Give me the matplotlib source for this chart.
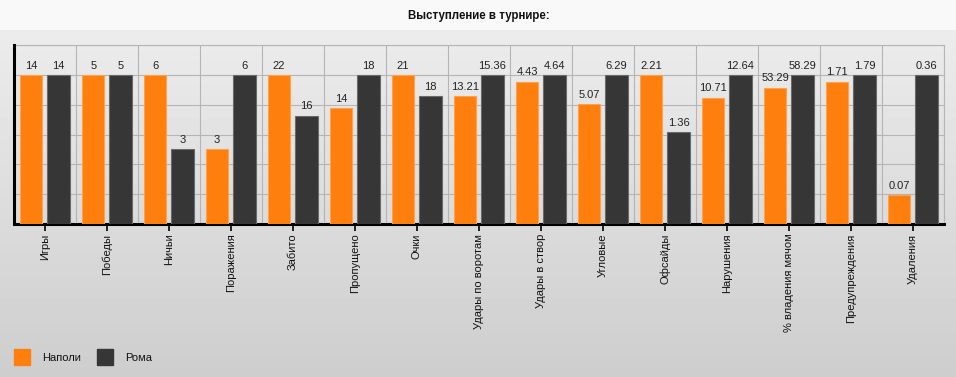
import matplotlib
matplotlib.use("Agg")
import matplotlib.pyplot as plt
import numpy as np
from matplotlib.patches import Rectangle

plt.rcParams['font.family'] = ['Liberation Sans', 'DejaVu Sans']

categories = ["Игры", "Победы", "Ничьи", "Поражения", "Забито", "Пропущено", "Очки",
              "Удары по воротам", "Удары в створ", "Угловые", "Офсайды", "Нарушения",
              "% владения мячом", "Предупреждения", "Удаления"]
napoli = [14, 5, 6, 3, 22, 14, 21, 13.21, 4.43, 5.07, 2.21, 10.71, 53.29, 1.71, 0.07]
roma = [14, 5, 3, 6, 16, 18, 18, 15.36, 4.64, 6.29, 1.36, 12.64, 58.29, 1.79, 0.36]
napoli_labels = ["14", "5", "6", "3", "22", "14", "21", "13.21", "4.43", "5.07", "2.21",
                 "10.71", "53.29", "1.71", "0.07"]
roma_labels = ["14", "5", "3", "6", "16", "18", "18", "15.36", "4.64", "6.29", "1.36",
               "12.64", "58.29", "1.79", "0.36"]
series_names = ["Наполи", "Рома"]

W, H = 956, 377
fig = plt.figure(figsize=(W / 100, H / 100), dpi=100)

# background gradient
bg = fig.add_axes([0, 0, 1, 1], zorder=-10)
grad = np.zeros((H, 1))
rows = np.arange(H)
grad[:, 0] = np.where(rows < 30, 0.976, 0.925 - (rows - 30) / (H - 30) * 0.12)
bg.imshow(grad, cmap='gray', vmin=0, vmax=1, aspect='auto', extent=[0, 1, 0, 1])
bg.axis('off')

fig.text(479 / W, 1 - 16 / H, "Выступление в турнире:", ha='center', va='center',
         fontsize=8.3, fontweight='bold', color='#111111')

left, right, top, bottom = 14, 944, 45, 224
ax = fig.add_axes([left / W, 1 - bottom / H, (right - left) / W, (bottom - top) / H])
ax.set_facecolor('none')

n = len(categories)
x = np.arange(n)
mx = np.maximum(napoli, roma)
hn = np.array(napoli) / mx
hr = np.array(roma) / mx
w = 0.36
xn = x + 0.277
xr = x + 0.718
ax.bar(xn, hn, width=w, color='#ff7f0e', edgecolor='#ffa24d', linewidth=0.8, zorder=3)
ax.bar(xr, hr, width=w, color='#363636', edgecolor='#6a6a6a', linewidth=0.8, zorder=3)

for xi, hi, lab in zip(xn, hn, napoli_labels):
    ax.annotate(lab, (xi, hi), xytext=(0, 3), textcoords='offset points', ha='center',
                va='bottom', fontsize=8, color='#222222')
for xi, hi, lab in zip(xr, hr, roma_labels):
    ax.annotate(lab, (xi, hi), xytext=(0, 3), textcoords='offset points', ha='center',
                va='bottom', fontsize=8, color='#222222')

ax.set_xlim(0, n)
ax.set_ylim(0, 1.2)
ax.set_yticks(np.arange(0, 1.21, 0.2))
ax.set_xticks(x + 0.5)
ax.set_xticklabels(categories, rotation=90, fontsize=8, color='#111111')
ax.set_xticks(np.arange(0, n + 1), minor=True)
ax.tick_params(axis='x', which='major', length=5, width=1.2, color='black', pad=2)
ax.tick_params(axis='x', which='minor', length=0)
ax.tick_params(axis='y', length=0, labelleft=False)
ax.grid(True, axis='y', which='major', color='#b5b5b5', linewidth=0.8, zorder=0)
ax.grid(True, axis='x', which='minor', color='#b5b5b5', linewidth=0.8, zorder=0)
ax.grid(False, axis='x', which='major')
for s in ['top', 'right']:
    ax.spines[s].set_visible(False)
ax.spines['left'].set_linewidth(2.2)
ax.spines['bottom'].set_linewidth(2.2)
ax.spines['left'].set_color('black')
ax.spines['bottom'].set_color('black')
ax.plot([0, n], [1.2, 1.2], color='#b5b5b5', linewidth=0.8, clip_on=False, zorder=0)
ax.plot([n, n], [0, 1.2], color='#b5b5b5', linewidth=0.8, clip_on=False, zorder=0)

# legend
colors = ['#ff7f0e', '#363636']
sq_x = [14, 97]
txt_x = [42, 125]
for c, sx, tx, name in zip(colors, sq_x, txt_x, series_names):
    fig.patches.append(Rectangle((sx / W, 1 - 365 / H), 16 / W, 16 / H,
                                 transform=fig.transFigure, color=c, zorder=5))
    fig.text(tx / W, 1 - 358 / H, name, ha='left', va='center', fontsize=8, color='#111111')

fig.savefig("out.png", dpi=100)
